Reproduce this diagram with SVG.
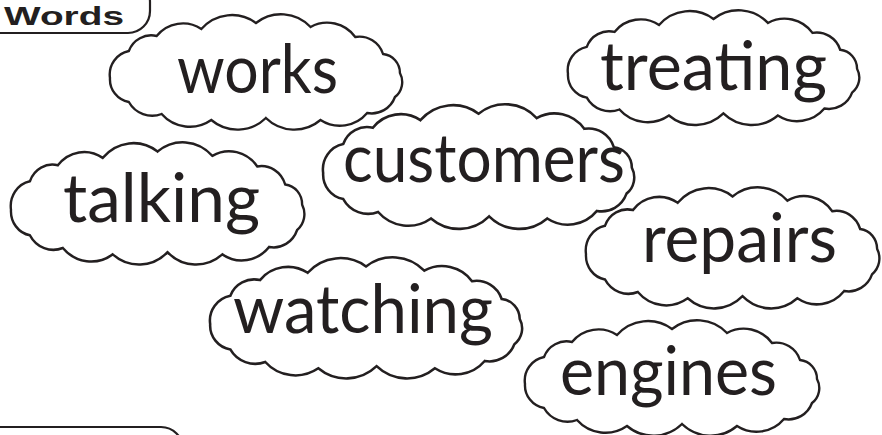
<svg xmlns="http://www.w3.org/2000/svg" width="882" height="435" viewBox="0 0 882 435">
<style>
.cloud{fill:#fff;stroke:#231f20;stroke-width:2.4;stroke-linejoin:miter}
.w{font-family:Lato,"Noto Sans","DejaVu Sans",sans-serif;font-size:67px;fill:#231f20}
.lbl{fill:#fff;stroke:#231f20;stroke-width:2.2}
</style>
<defs>
<path id="cl" d="M3,64 A24,24 0 0 1 22,37 A24,24 0 0 1 50,22 A34,34 0 0 1 95,15 A41,41 0 0 1 150,9 A41,41 0 0 1 205,13 A35,35 0 0 1 250,23 A25,25 0 0 1 278,40 A19,19 0 0 1 295,59 A19,19 0 0 1 290,83 A25,25 0 0 1 262,99 A36,36 0 0 1 215,106 A41,41 0 0 1 160,104 A41,41 0 0 1 105,106 A38,38 0 0 1 55,100 A27,27 0 0 1 22,88 A23,23 0 0 1 3,64 Z"/>
</defs>
<g id="label-words">
<rect class="lbl" x="-30" y="-20" width="180" height="53" rx="22"/>
<text x="4" y="25" font-family="'Liberation Sans',Arial,sans-serif" font-weight="bold" font-size="26" fill="#231f20" textLength="120" lengthAdjust="spacingAndGlyphs">Words</text>
</g>
<g id="label-bottom">
<rect class="lbl" x="-30" y="427" width="213" height="50" rx="22"/>
</g>
<g id="works">
<use href="#cl" class="cloud" transform="translate(107,14) scale(0.993,1.0)"/>
<text class="w" x="177" y="93" textLength="161" lengthAdjust="spacingAndGlyphs">works</text>
</g>
<g id="treating">
<use href="#cl" class="cloud" transform="translate(565,10) scale(0.99,0.995)"/>
<text class="w" x="600" y="90" textLength="227" lengthAdjust="spacingAndGlyphs">treating</text>
</g>
<g id="customers">
<use href="#cl" class="cloud" transform="translate(320,104) scale(1.057,1.08)"/>
<text class="w" x="343" y="182" textLength="282" lengthAdjust="spacingAndGlyphs">customers</text>
</g>
<g id="talking">
<use href="#cl" class="cloud" transform="translate(8,142) scale(0.997,1.06)"/>
<text class="w" x="63" y="222" textLength="197" lengthAdjust="spacingAndGlyphs">talking</text>
</g>
<g id="repairs">
<use href="#cl" class="cloud" transform="translate(583,187) scale(0.997,1.05)"/>
<text class="w" x="642" y="262" textLength="195" lengthAdjust="spacingAndGlyphs">repairs</text>
</g>
<g id="watching">
<use href="#cl" class="cloud" transform="translate(207,257) scale(1.06,1.05)"/>
<text class="w" x="233" y="333" textLength="260" lengthAdjust="spacingAndGlyphs">watching</text>
</g>
<g id="engines">
<use href="#cl" class="cloud" transform="translate(522,320) scale(1.0,1.0)"/>
<text class="w" x="560" y="395" textLength="217" lengthAdjust="spacingAndGlyphs">engines</text>
</g>
<g id="connectors"/>
</svg>
